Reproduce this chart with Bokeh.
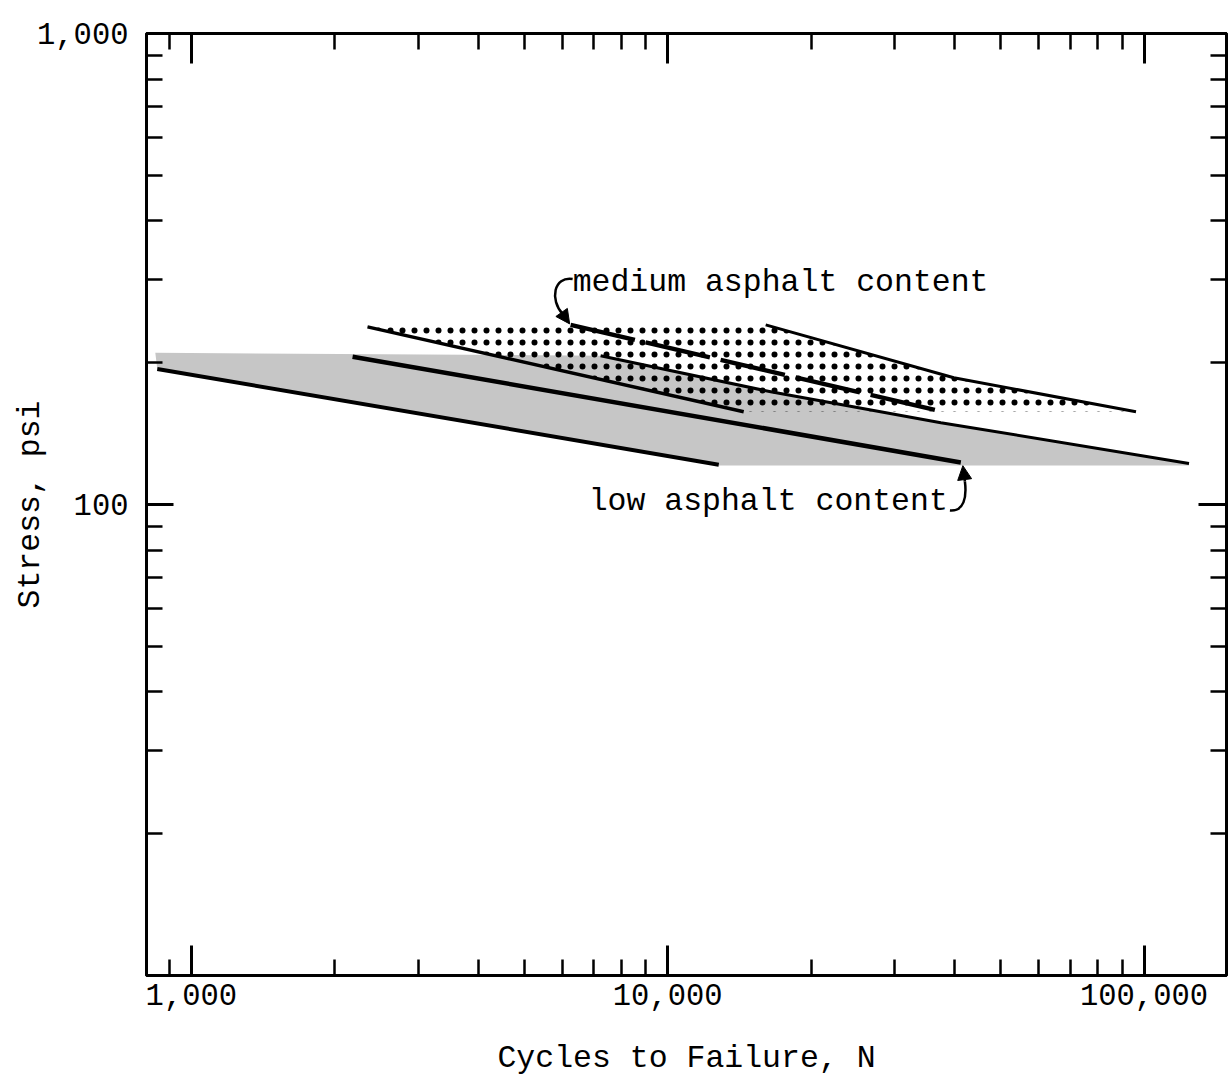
from bokeh.plotting import figure
from bokeh.models import (Range1d, LogAxis, FixedTicker, NumeralTickFormatter,
                          CustomJSTickFormatter, Label, Arrow, NormalHead)
from bokeh.embed import file_html
from bokeh.resources import INLINE

# ---------------- data ----------------
# low asphalt content: scatter band (grey) and lines
low_band_N = [840, 7230, 16460, 37460, 124300, 124300, 12800, 848]
low_band_S = [210, 207, 173.5, 149.2, 122.2, 121.0, 121.0, 194]
low_lower_N = [848, 12800]
low_lower_S = [194, 121.5]
low_upper_N = [7230, 16460, 37460, 124300]
low_upper_S = [207, 173.5, 149.2, 122.2]
low_mean_N = [2180, 41250]
low_mean_S = [206, 122.8]

# medium asphalt content: scatter band (dotted) and lines
med_band_N = [2343, 16060, 39880, 96200, 14440, 2343]
med_band_S = [240.6, 240.6, 185.8, 157.4, 157.4, 238.3]
med_upper_N = [16060, 39880, 96200]
med_upper_S = [240.6, 185.8, 157.4]
med_lower_N = [2343, 14440]
med_lower_S = [238.3, 157.4]
med_mean_N = [6255, 37820]
med_mean_S = [240.6, 157.4]

# axes
x_major = [1000, 10000, 100000]
x_minor = [900, 2000, 3000, 4000, 5000, 6000, 7000, 8000, 9000,
           20000, 30000, 40000, 50000, 60000, 70000, 80000, 90000]
y_major = [100, 1000]
y_minor = [20, 30, 40, 50, 60, 70, 80, 90,
           200, 300, 400, 500, 600, 700, 800, 900]
y_labels = {100: "100", 1000: "1,000"}

# annotations
med_text = "medium asphalt content"
med_text_pos = [6316, 296]
low_text = "low asphalt content"
low_text_pos = [6824, 101.5]
med_curve = dict(x0=6316, y0=301.2, cx0=5762, cy0=305.6, cx1=5651, cy1=271.9, x1=6018, y1=253.9)
med_head = [6018, 253.9, 6226, 241.8]
low_curve = dict(x0=39130, y0=97.1, cx0=41870, cy0=96.6, cx1=42480, cy1=103.5, x1=42070, y1=111.9)
low_head = [42070, 111.9, 41660, 120.9]

FONT = "Liberation Mono"

p = figure(width=1228, height=1078, x_axis_type="log", y_axis_type="log",
           x_range=Range1d(805, 149000), y_range=Range1d(10, 1000),
           output_backend="svg", toolbar_location=None,
           min_border_left=146, min_border_right=2, min_border_top=33,
           min_border_bottom=103)
p.background_fill_color = "white"
p.border_fill_color = "white"
p.outline_line_color = "black"
p.outline_line_width = 3
p.grid.visible = False

xt = FixedTicker(ticks=x_major, minor_ticks=x_minor)
yt = FixedTicker(ticks=y_major, minor_ticks=y_minor)
blank = CustomJSTickFormatter(code="return ''")


def style(ax, maj_len):
    ax.axis_line_width = 3
    ax.axis_line_color = "black"
    ax.major_tick_in = maj_len
    ax.major_tick_out = 0
    ax.minor_tick_in = 16
    ax.minor_tick_out = 0
    ax.major_tick_line_width = 3
    ax.minor_tick_line_width = 2.5
    ax.major_tick_line_color = "black"
    ax.minor_tick_line_color = "black"
    ax.major_label_text_font = FONT
    ax.major_label_text_color = "black"
    ax.axis_label_text_font = FONT
    ax.axis_label_text_font_style = "normal"
    ax.axis_label_text_color = "black"


xb = p.xaxis[0]
xb.ticker = xt
xb.formatter = NumeralTickFormatter(format="0,0")
style(xb, 30)
xb.major_label_text_font_size = "30.5px"
xb.major_label_standoff = 8
xb.axis_label = "Cycles to Failure, N"
xb.axis_label_text_font_size = "31.5px"
xb.axis_label_standoff = 33

yl = p.yaxis[0]
yl.ticker = yt
yl.major_label_overrides = y_labels
style(yl, 27)
yl.major_label_text_font_size = "30.5px"
yl.major_label_standoff = 18
yl.axis_label = "Stress, psi"
yl.axis_label_text_font_size = "31.5px"
yl.axis_label_standoff = -14

xa = LogAxis(ticker=xt, formatter=blank)
style(xa, 30)
xa.major_label_text_font_size = "1px"
xa.major_label_standoff = 0
p.add_layout(xa, "above")

yr = LogAxis(ticker=yt, formatter=blank)
style(yr, 28)
yr.major_label_text_font_size = "1px"
yr.major_label_standoff = 0
p.add_layout(yr, "right")

# bands
p.patch(low_band_N, low_band_S, fill_color="#c6c6c6", line_color=None)
p.patch(med_band_N, med_band_S, fill_alpha=0, line_color=None,
        hatch_pattern="dot", hatch_color="black", hatch_scale=12, hatch_weight=3.5)

# lines
p.line(low_lower_N, low_lower_S, line_color="black", line_width=4)
p.line(low_upper_N, low_upper_S, line_color="black", line_width=3)
p.line(low_mean_N, low_mean_S, line_color="black", line_width=4.5)
p.line(med_upper_N, med_upper_S, line_color="black", line_width=3)
p.line(med_lower_N, med_lower_S, line_color="black", line_width=3.5)
p.line(med_mean_N, med_mean_S, line_color="black", line_width=4.5, line_dash="66 11")

# labels + arrows
p.add_layout(Label(x=med_text_pos[0], y=med_text_pos[1], text=med_text,
                   text_font=FONT, text_font_size="31.5px", text_baseline="middle",
                   text_align="left", text_color="black"))
p.add_layout(Label(x=low_text_pos[0], y=low_text_pos[1], text=low_text,
                   text_font=FONT, text_font_size="31.5px", text_baseline="middle",
                   text_align="left", text_color="black"))
p.bezier(line_color="black", line_width=2.5, **med_curve)
p.bezier(line_color="black", line_width=2.5, **low_curve)
for h in (med_head, low_head):
    p.add_layout(Arrow(x_start=h[0], y_start=h[1], x_end=h[2], y_end=h[3],
                       line_width=2.5, line_color="black",
                       end=NormalHead(size=14, fill_color="black", line_color="black")))

open("out.html", "w").write(file_html(p, INLINE))
